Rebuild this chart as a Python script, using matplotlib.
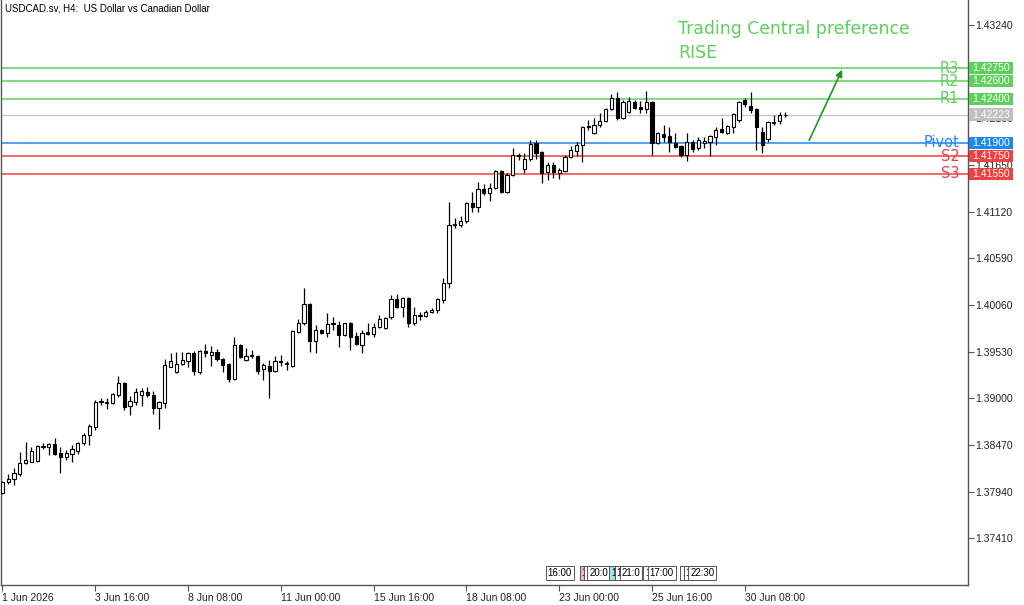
import matplotlib
matplotlib.use("Agg")
import matplotlib.pyplot as plt
from matplotlib.patches import Rectangle
from matplotlib.transforms import blended_transform_factory

plt.rcParams['font.family'] = ['Liberation Sans', 'DejaVu Sans']

# H4 candles, 1 Jun 2026 00:00 onwards
opens = [
    1.3792, 1.3805, 1.3808, 1.3814, 1.3826, 1.3828, 1.3829, 1.3845, 1.3845, 1.3848,
    1.3838, 1.3833, 1.3837, 1.3840, 1.3849, 1.3858, 1.3867, 1.3896, 1.3895, 1.3895,
    1.3904, 1.3917, 1.3891, 1.3896, 1.3904, 1.3907, 1.3904, 1.3889, 1.3895, 1.3936,
    1.3930, 1.3939, 1.3942, 1.3951, 1.3930, 1.3954, 1.3949, 1.3953, 1.3945, 1.3939,
    1.3922, 1.3960, 1.3943, 1.3949, 1.3948, 1.3933, 1.3937, 1.3931, 1.3941, 1.3940,
    1.3937, 1.3975, 1.3985, 1.4007, 1.3965, 1.3977, 1.3974, 1.3984, 1.3983, 1.3972,
    1.3985, 1.3971, 1.3960, 1.3975, 1.3973, 1.3981, 1.3980, 1.3992, 1.4013, 1.4004,
    1.4014, 1.3985, 1.3993, 1.3993, 1.3998, 1.4000, 1.4012, 1.4031, 1.4097, 1.4097,
    1.4101, 1.4122, 1.4117, 1.4138, 1.4133, 1.4139, 1.4158, 1.4134, 1.4154, 1.4175,
    1.4160, 1.4172, 1.4190, 1.4180, 1.4157, 1.4165, 1.4156, 1.4158, 1.4174, 1.4181,
    1.4188, 1.4208, 1.4201, 1.4210, 1.4215, 1.4229, 1.4241, 1.4218, 1.4225, 1.4237,
    1.4231, 1.4229, 1.4237, 1.4190, 1.4200, 1.4198, 1.4190, 1.4187, 1.4176, 1.4191,
    1.4184, 1.4190, 1.4191, 1.4197, 1.4206, 1.4201, 1.4208, 1.4216, 1.4239, 1.4232,
    1.4229, 1.4202, 1.4194, 1.4213, 1.4215, 1.4222,
]
highs = [
    1.3806, 1.3814, 1.3821, 1.3839, 1.3850, 1.3845, 1.3847, 1.3849, 1.3849, 1.3855,
    1.3845, 1.3841, 1.3847, 1.3850, 1.3860, 1.3871, 1.3898, 1.3900, 1.3900, 1.3906,
    1.3925, 1.3918, 1.3903, 1.3912, 1.3912, 1.3913, 1.3908, 1.3897, 1.3945, 1.3951,
    1.3953, 1.3953, 1.3953, 1.3954, 1.3955, 1.3962, 1.3959, 1.3956, 1.3946, 1.3940,
    1.3970, 1.3962, 1.3957, 1.3955, 1.3949, 1.3940, 1.3943, 1.3948, 1.3949, 1.3942,
    1.3977, 1.3990, 1.4025, 1.4008, 1.3983, 1.3979, 1.3997, 1.3992, 1.3988, 1.3986,
    1.3987, 1.3975, 1.3977, 1.3986, 1.3986, 1.3995, 1.3992, 1.4017, 1.4018, 1.4015,
    1.4015, 1.4004, 1.3998, 1.4000, 1.4002, 1.4014, 1.4037, 1.4123, 1.4105, 1.4107,
    1.4123, 1.4134, 1.4146, 1.4143, 1.4144, 1.4159, 1.4159, 1.4156, 1.4184, 1.4179,
    1.4179, 1.4193, 1.4193, 1.4181, 1.4168, 1.4168, 1.4162, 1.4176, 1.4187, 1.4191,
    1.4209, 1.4216, 1.4218, 1.4224, 1.4230, 1.4246, 1.4248, 1.4239, 1.4242, 1.4239,
    1.4238, 1.4249, 1.4238, 1.4202, 1.4210, 1.4208, 1.4201, 1.4188, 1.4201, 1.4193,
    1.4197, 1.4197, 1.4199, 1.4208, 1.4218, 1.4210, 1.4224, 1.4238, 1.4241, 1.4248,
    1.4230, 1.4208, 1.4215, 1.4222, 1.4225, 1.4225,
]
lows = [
    1.3791, 1.3803, 1.3801, 1.3812, 1.3825, 1.3827, 1.3828, 1.3842, 1.3836, 1.3836,
    1.3815, 1.3830, 1.3828, 1.3837, 1.3847, 1.3847, 1.3864, 1.3892, 1.3888, 1.3893,
    1.3901, 1.3887, 1.3881, 1.3892, 1.3891, 1.3901, 1.3882, 1.3865, 1.3889, 1.3935,
    1.3929, 1.3938, 1.3935, 1.3926, 1.3928, 1.3947, 1.3937, 1.3942, 1.3930, 1.3918,
    1.3921, 1.3946, 1.3942, 1.3946, 1.3928, 1.3921, 1.3900, 1.3930, 1.3937, 1.3932,
    1.3935, 1.3974, 1.3983, 1.3952, 1.3951, 1.3973, 1.3969, 1.3977, 1.3958, 1.3971,
    1.3955, 1.3961, 1.3951, 1.3972, 1.3969, 1.3980, 1.3979, 1.3990, 1.4003, 1.3992,
    1.3981, 1.3983, 1.3989, 1.3992, 1.3997, 1.3997, 1.4008, 1.4025, 1.4093, 1.4095,
    1.4099, 1.4112, 1.4112, 1.4131, 1.4124, 1.4138, 1.4133, 1.4133, 1.4152, 1.4171,
    1.4156, 1.4169, 1.4172, 1.4144, 1.4148, 1.4150, 1.4149, 1.4157, 1.4173, 1.4175,
    1.4168, 1.4205, 1.4200, 1.4208, 1.4214, 1.4227, 1.4216, 1.4217, 1.4224, 1.4229,
    1.4224, 1.4224, 1.4176, 1.4189, 1.4191, 1.4180, 1.4184, 1.4174, 1.4169, 1.4180,
    1.4182, 1.4184, 1.4175, 1.4188, 1.4201, 1.4200, 1.4201, 1.4214, 1.4231, 1.4224,
    1.4182, 1.4179, 1.4191, 1.4210, 1.4211, 1.4220,
]
closes = [
    1.3805, 1.3808, 1.3815, 1.3826, 1.3830, 1.3840, 1.3846, 1.3846, 1.3848, 1.3837,
    1.3833, 1.3838, 1.3842, 1.3849, 1.3858, 1.3868, 1.3896, 1.3897, 1.3896, 1.3905,
    1.3917, 1.3890, 1.3897, 1.3907, 1.3908, 1.3904, 1.3889, 1.3896, 1.3938, 1.3942,
    1.3939, 1.3943, 1.3951, 1.3931, 1.3954, 1.3951, 1.3953, 1.3945, 1.3938, 1.3922,
    1.3960, 1.3947, 1.3948, 1.3948, 1.3931, 1.3938, 1.3931, 1.3942, 1.3942, 1.3939,
    1.3976, 1.3985, 1.4007, 1.3965, 1.3977, 1.3974, 1.3984, 1.3985, 1.3972, 1.3985,
    1.3969, 1.3962, 1.3974, 1.3973, 1.3981, 1.3990, 1.3991, 1.4013, 1.4004, 1.4014,
    1.3985, 1.3995, 1.3994, 1.3998, 1.4000, 1.4013, 1.4031, 1.4097, 1.4098, 1.4101,
    1.4122, 1.4117, 1.4138, 1.4133, 1.4139, 1.4158, 1.4134, 1.4154, 1.4176, 1.4176,
    1.4172, 1.4189, 1.4179, 1.4156, 1.4165, 1.4157, 1.4159, 1.4174, 1.4182, 1.4188,
    1.4208, 1.4209, 1.4210, 1.4215, 1.4229, 1.4241, 1.4218, 1.4237, 1.4238, 1.4230,
    1.4229, 1.4237, 1.4190, 1.4201, 1.4197, 1.4191, 1.4185, 1.4176, 1.4191, 1.4183,
    1.4193, 1.4192, 1.4198, 1.4205, 1.4202, 1.4209, 1.4223, 1.4237, 1.4234, 1.4227,
    1.4208, 1.4188, 1.4214, 1.4214, 1.4222, 1.42223,
]

x_tick_bars = [0, 16, 32, 48, 64, 80, 96, 112, 128]
x_tick_labels = ["1 Jun 2026", "3 Jun 16:00", "8 Jun 08:00", "11 Jun 00:00",
                 "15 Jun 16:00", "18 Jun 08:00", "23 Jun 00:00", "25 Jun 16:00",
                 "30 Jun 08:00"]
y_ticks = [1.43240, 1.42710, 1.42180, 1.41650, 1.41120, 1.40590,
           1.40060, 1.39530, 1.39000, 1.38470, 1.37940, 1.37410]
# 1.42710 sits fully under the R3 price box, so its label is not visible
y_tick_labels = ["1.43240", "", "1.42180", "1.41650", "1.41120", "1.40590",
                 "1.40060", "1.39530", "1.39000", "1.38470", "1.37940", "1.37410"]

level_names = ["R3", "R2", "R1", "Pivot", "S2", "S3"]
level_values = [1.42750, 1.42600, 1.42400, 1.41900, 1.41750, 1.41550]
level_colors = ["#5ccf5c", "#5ccf5c", "#5ccf5c", "#1e88f0", "#f04040", "#f04040"]
last_price = 1.42223

# calendar event flags at the bottom (bar position, text, colour)
event_bars = [94.0, 99.9, 100.6, 101.2, 105.0, 105.9, 106.8, 110.8, 111.6, 117.2, 117.8, 118.6]
event_texts = ["16:00", "1", "1", "20:0", "1", "1", "21:0", "1", "17:00", "1", "1", "22:30"]
event_colors = ["white", "#f7b6c0", "white", "white", "#9ee6e6", "white", "white",
                "white", "white", "white", "white", "white"]

fig = plt.figure(figsize=(10.24, 6.05), dpi=100)
ax = fig.add_axes([1 / 1024, 20 / 605, 967 / 1024, 585 / 605])

# candles
n = len(opens)
idx = list(range(n))
ax.vlines(idx, lows, highs, color="black", lw=0.9, zorder=3)
up = [c >= o for o, c in zip(opens, closes)]
bottoms = [min(o, c) for o, c in zip(opens, closes)]
heights = [max(abs(c - o), 0.00002) for o, c in zip(opens, closes)]
ax.bar(idx, heights, bottom=bottoms, width=0.55,
       color=["white" if u else "black" for u in up],
       edgecolor="black", linewidth=0.8, zorder=4)

# price boxes on the right scale
trans = blended_transform_factory(ax.transAxes, ax.transData)
box_h = 0.00140
box_x0, box_w = 1.0015, 0.0455


def price_box(val, col):
    ax.add_patch(Rectangle((box_x0, val - box_h / 2), box_w, box_h, transform=trans,
                           fc=col, ec="none", clip_on=False, zorder=6))
    ax.text(box_x0 + box_w / 2, val, f"{val:.5f}", transform=trans, ha="center",
            va="center", color="white", fontsize=7.5, clip_on=False, zorder=7)


# pivot levels
for name, val, col in zip(level_names, level_values, level_colors):
    ax.axhline(val, color=col, lw=1.1, zorder=2)
    ax.text(0.991, val, name, transform=trans, ha="right", va="center",
            color=col, fontsize=10.5, family=["DejaVu Sans"], zorder=5)
    price_box(val, col)

ax.axhline(last_price, color="#c8c8c8", lw=1, zorder=1)
price_box(last_price, "#c0c0c0")

# Trading Central preference
ax.text(0.700, 0.950, "Trading Central preference", transform=ax.transAxes,
        color="#5ccf5c", fontsize=12.4, family=["DejaVu Sans"], va="center")
ax.text(0.700, 0.909, "RISE", transform=ax.transAxes,
        color="#5ccf5c", fontsize=12.4, family=["DejaVu Sans"], va="center")
ax.annotate("", xy=(145.0, 1.4276), xytext=(138.9, 1.4190),
            arrowprops=dict(arrowstyle="-|>", color="#1a9a1a", lw=1.2,
                            mutation_scale=10), zorder=5)

# title
ax.text(0.004, 0.986, "USDCAD.sv, H4:  US Dollar vs Canadian Dollar",
        transform=ax.transAxes, fontsize=7.0, va="center", ha="left")

# event flags
ev_trans = blended_transform_factory(ax.transData, ax.transAxes)
for b, t, c in zip(event_bars, event_texts, event_colors):
    ax.text(b, 0.012, t, transform=ev_trans, fontsize=7, ha="left", va="bottom",
            zorder=6, bbox=dict(boxstyle="square,pad=0.2", fc=c, ec="#555555", lw=0.7))

# axes
ax.set_xlim(-0.25, 166.5)
ax.set_ylim(1.36878, 1.43524)
ax.set_facecolor("white")
for side in ["left", "right", "bottom"]:
    ax.spines[side].set_color("#555555")
    ax.spines[side].set_linewidth(1)
ax.spines["top"].set_visible(False)

ax.yaxis.tick_right()
ax.set_yticks(y_ticks)
ax.set_yticklabels(y_tick_labels)
ax.tick_params(axis="y", direction="out", length=4, width=0.8, color="#555555",
               labelsize=7.5, pad=1, labelcolor="#222222")

ax.set_xticks(x_tick_bars)
ax.set_xticklabels(x_tick_labels)
ax.tick_params(axis="x", direction="out", length=4, width=0.8, color="#555555",
               labelsize=7.5, pad=2, labelcolor="#222222")
for lbl in ax.get_xticklabels():
    lbl.set_ha("left")

fig.savefig("out.png", dpi=100, facecolor="white")
